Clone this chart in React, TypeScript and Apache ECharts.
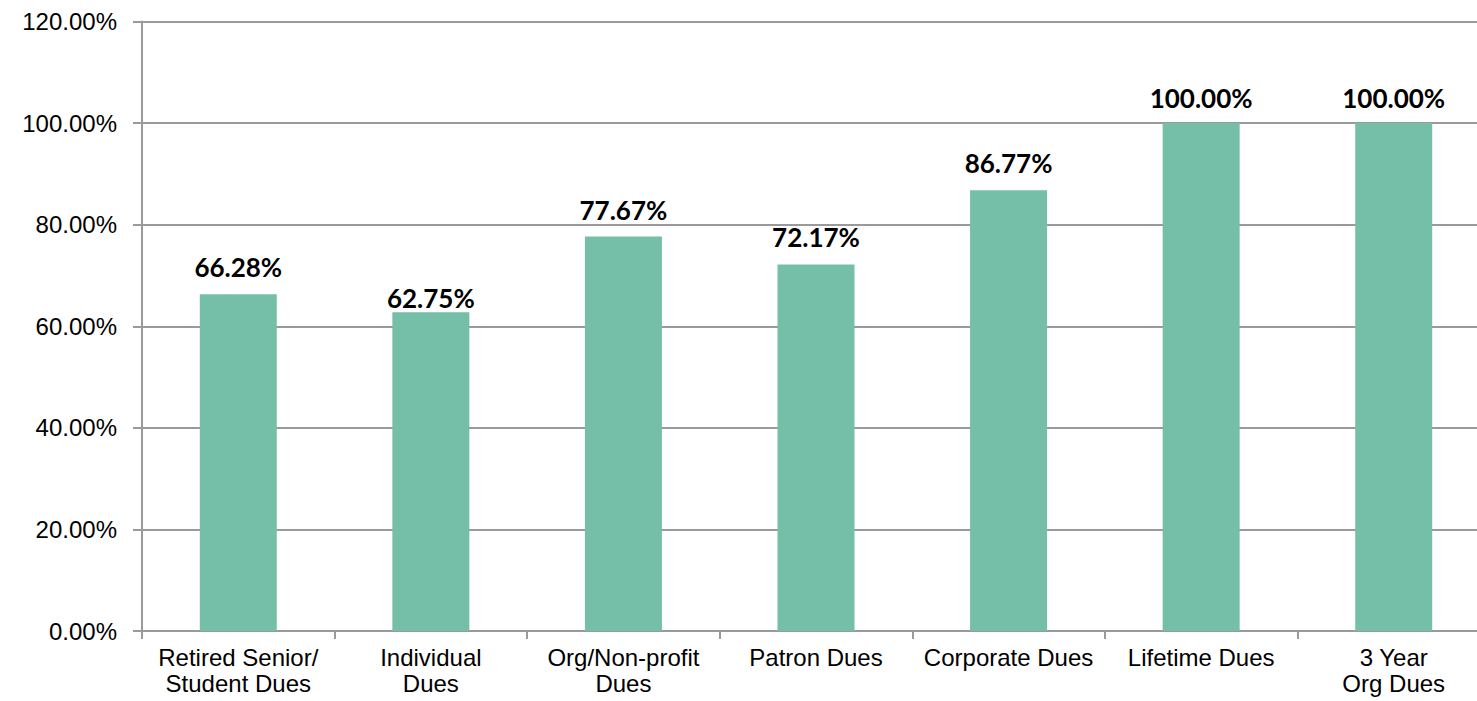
import React, { useEffect, useRef } from "react";
import * as echarts from "echarts";

const categories = [
  "Retired Senior/\nStudent Dues",
  "Individual\nDues",
  "Org/Non-profit\nDues",
  "Patron Dues",
  "Corporate Dues",
  "Lifetime Dues",
  "3 Year\nOrg Dues",
];
const values = [66.28, 62.75, 77.67, 72.17, 86.77, 100.0, 100.0];
const labelDistances = [14, 1, 14, 14, 14, 12, 12];
const yTicks = { min: 0, max: 120, interval: 20 };

export default function App() {
  const ref = useRef<HTMLDivElement>(null);
  useEffect(() => {
    if (!ref.current) return;
    const chart = echarts.init(ref.current, null, { renderer: "svg" });
    chart.setOption({
      animation: false,
      backgroundColor: "#ffffff",
      grid: { left: 142, right: 10, top: 21.5, bottom: 70, containLabel: false },
      xAxis: {
        type: "category",
        data: categories,
        axisLine: { show: true, lineStyle: { color: "#9a9a9a", width: 2 } },
        axisTick: { show: true, length: 8, lineStyle: { color: "#9a9a9a", width: 2 } },
        axisLabel: {
          color: "#000",
          fontFamily: "Liberation Sans, Arial, sans-serif",
          fontSize: 24,
          lineHeight: 26,
          margin: 13,
          interval: 0,
        },
      },
      yAxis: {
        type: "value",
        min: yTicks.min,
        max: yTicks.max,
        interval: yTicks.interval,
        axisLine: { show: true, lineStyle: { color: "#9a9a9a", width: 2 } },
        axisTick: { show: true, length: 9, lineStyle: { color: "#9a9a9a", width: 2 } },
        splitLine: { show: true, lineStyle: { color: "#9a9a9a", width: 2 } },
        axisLabel: {
          color: "#000",
          fontFamily: "Liberation Sans, Arial, sans-serif",
          fontSize: 24,
          margin: 25,
          formatter: (v: number) => v.toFixed(2) + "%",
        },
      },
      series: [
        {
          type: "bar",
          barWidth: 77,
          data: values.map((v, i) => ({
            value: v,
            label: { distance: labelDistances[i] },
          })),
          itemStyle: { color: "#75bea7" },
          label: {
            show: true,
            position: "top",
            color: "#000",
            fontFamily: "Lato, sans-serif",
            fontWeight: "bold",
            fontSize: 26,
            lineHeight: 26,
            formatter: (p: any) => p.value.toFixed(2) + "%",
          },
        },
      ],
    });
    return () => chart.dispose();
  }, []);
  return (
    <div
      style={{
        position: "fixed",
        left: 0,
        top: 0,
        width: 1477,
        height: 701,
        overflow: "hidden",
        background: "#fff",
      }}
    >
      <div ref={ref} style={{ width: 1500, height: 701 }} />
    </div>
  );
}
